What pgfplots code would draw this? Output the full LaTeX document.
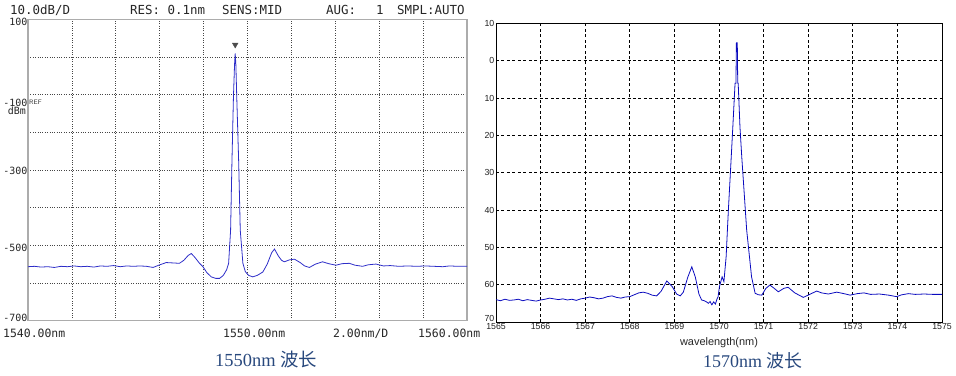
\documentclass[border=0pt]{standalone}
\usepackage{fontspec}
\usepackage{pgfplots}
\pgfplotsset{compat=1.18}
\newfontfamily\osafont{DejaVu Sans Mono}
\newfontfamily\arialf{Liberation Sans}
\newfontfamily\timesf{Liberation Serif}
\newfontfamily\cjk{Noto Sans CJK SC}
\definecolor{capblue}{RGB}{40,72,125}
\definecolor{traceA}{RGB}{45,45,200}
\definecolor{traceB}{RGB}{10,10,190}
\begin{document}
\begin{tikzpicture}
\useasboundingbox (0,0) rectangle (956bp,376bp);
% ---------------- left panel (OSA screen) ----------------
\begin{axis}[
  at={(28bp,55.5bp)}, anchor=south west, scale only axis,
  width=439bp, height=301bp,
  xmin=1540, xmax=1560, ymin=-70, ymax=10,
  xtick={1540,1542,...,1560}, ytick={-70,-60,...,10},
  xticklabels={}, yticklabels={},
  major tick length=0pt,
  grid=major,
  major grid style={gray!55!black, line width=0.7pt, dash pattern=on 0.8pt off 1.6pt},
  axis line style={gray!65, line width=1.3pt},
  clip=false,
]
\addplot[traceA, line width=0.8pt] coordinates {
(1540.0,-55.7)(1540.3,-55.6)(1540.6,-55.8)(1540.9,-55.7)(1541.2,-55.9)(1541.5,-55.6)
(1541.8,-55.7)(1542.1,-55.5)(1542.4,-55.7)(1542.7,-55.6)(1543.0,-55.8)(1543.3,-55.5)
(1543.6,-55.6)(1543.9,-55.4)(1544.2,-55.7)(1544.5,-55.5)(1544.8,-55.6)(1545.1,-55.5)
(1545.4,-55.6)(1545.7,-55.9)(1546.0,-55.2)(1546.3,-54.6)(1546.6,-54.7)(1546.9,-54.8)
(1547.1,-54.0)(1547.3,-52.7)(1547.44,-52.2)(1547.6,-53.2)(1547.8,-54.7)(1547.97,-55.7)
(1548.15,-57.3)(1548.35,-58.4)(1548.55,-58.8)(1548.73,-58.8)(1548.9,-58.0)(1549.05,-56.5)
(1549.14,-54.8)(1549.23,-46)(1549.29,-28.2)(1549.36,-10.5)(1549.41,-2)(1549.44,1.0)
(1549.47,-2)(1549.51,-10.5)(1549.60,-28.2)(1549.67,-46)(1549.79,-54.8)(1549.9,-57.0)
(1550.05,-58.0)(1550.24,-58.4)(1550.45,-58.0)(1550.70,-57.1)(1550.9,-55.0)(1551.1,-52.0)
(1551.23,-51.0)(1551.4,-52.8)(1551.55,-54.0)(1551.68,-54.4)(1551.9,-53.9)(1552.14,-53.7)
(1552.4,-54.6)(1552.6,-55.5)(1552.82,-55.9)(1553.1,-55.0)(1553.42,-54.4)(1553.7,-54.9)
(1554.03,-55.3)(1554.3,-54.9)(1554.64,-54.8)(1554.9,-55.3)(1555.24,-55.6)(1555.5,-55.2)
(1555.85,-55.0)(1556.2,-55.5)(1556.5,-55.4)(1556.9,-55.6)(1557.3,-55.5)(1557.7,-55.6)
(1558.1,-55.5)(1558.5,-55.6)(1558.9,-55.7)(1559.2,-55.5)(1559.6,-55.6)(1560.0,-55.6)
};
\addplot[only marks, mark=triangle*, mark size=3.3pt,
  mark options={rotate=180, fill=gray!60!black, draw=gray!60!black}] coordinates {(1549.44,3.3)};
\end{axis}
% left panel texts
\begin{scope}[every node/.style={inner sep=0pt, font=\osafont\fontsize{12.5}{12.5}\selectfont, text=black!85}]
\node[anchor=base west] at (10bp,361bp) {10.0dB/D};
\node[anchor=base west] at (130bp,361bp) {RES: 0.1nm};
\node[anchor=base west] at (222bp,361bp) {SENS:MID};
\node[anchor=base west] at (326bp,361bp) {AUG:};
\node[anchor=base west] at (376bp,361bp) {1};
\node[anchor=base west] at (397bp,361bp) {SMPL:AUTO};
\end{scope}
\begin{scope}[every node/.style={inner sep=0pt, font=\osafont\fontsize{10}{10}\selectfont, text=black!85}]
\node[anchor=east] at (27.5bp,354bp) {100};
\node[anchor=east] at (27.5bp,273.5bp) {-100};
\node[anchor=east] at (26bp,265bp) {dBm};
\node[anchor=east] at (27.5bp,205bp) {-300};
\node[anchor=east] at (27.5bp,128.5bp) {-500};
\node[anchor=east] at (27.5bp,58.5bp) {-700};
\end{scope}
\node[anchor=west, inner sep=0pt, font=\sffamily\fontsize{6.5}{6.5}\selectfont, text=black!80] at (29bp,273.5bp) {REF};
\begin{scope}[every node/.style={inner sep=0pt, font=\osafont\fontsize{11.5}{11.5}\selectfont, text=black!85}]
\node[anchor=base west] at (3bp,39bp) {1540.00nm};
\node[anchor=base west] at (223bp,39bp) {1550.00nm};
\node[anchor=base west] at (333bp,39bp) {2.00nm/D};
\node[anchor=base west] at (418bp,39bp) {1560.00nm};
\end{scope}
% ---------------- right panel ----------------
\begin{axis}[
  at={(496bp,54bp)}, anchor=south west, scale only axis,
  width=446bp, height=298.5bp,
  xmin=1565, xmax=1575, ymin=-70, ymax=10,
  xtick={1565,1566,...,1575}, ytick={-70,-60,...,10},
  xticklabels={1565,1566,1567,1568,1569,1570,1571,1572,1573,1574,1575},
  yticklabels={,60,50,40,30,20,10,0,10},
  xticklabel style={font=\arialf\fontsize{8.8}{8.8}\selectfont, text=gray!25!black, inner sep=1pt},
  yticklabel style={font=\arialf\fontsize{8.8}{8.8}\selectfont, text=gray!25!black, inner sep=1.5pt},
  major tick length=0pt,
  grid=major,
  major grid style={black, line width=0.7pt, dash pattern=on 3pt off 2.5pt},
  axis line style={black, line width=0.9pt},
]
\addplot[traceB, line width=0.8pt] coordinates {
(1565.0,-64.0)(1565.1,-64.3)(1565.2,-63.9)(1565.3,-64.2)(1565.4,-64.1)(1565.5,-63.9)
(1565.6,-64.3)(1565.7,-64.0)(1565.8,-64.2)(1565.9,-64.4)(1566.0,-64.1)(1566.1,-63.9)
(1566.2,-63.6)(1566.3,-63.8)(1566.4,-64.0)(1566.5,-63.8)(1566.6,-64.1)(1566.7,-63.9)
(1566.8,-64.2)(1566.9,-63.8)(1567.0,-63.6)(1567.1,-63.3)(1567.2,-63.5)(1567.3,-63.8)
(1567.4,-63.6)(1567.5,-63.2)(1567.6,-63.0)(1567.7,-63.4)(1567.8,-63.6)(1567.9,-63.3)
(1568.0,-63.2)(1568.1,-62.7)(1568.2,-62.2)(1568.3,-62.0)(1568.4,-62.3)(1568.5,-62.8)
(1568.6,-63.0)(1568.7,-61.8)(1568.83,-59.0)(1568.95,-60.5)(1569.05,-62.5)(1569.13,-63.0)
(1569.2,-62.0)(1569.3,-58.0)(1569.39,-55.2)(1569.47,-58.0)(1569.55,-62.5)(1569.61,-64.1)
(1569.67,-64.3)(1569.72,-64.6)(1569.76,-65.0)(1569.8,-64.5)(1569.84,-65.4)(1569.88,-64.6)
(1569.92,-65.2)(1569.95,-64.0)(1569.98,-63.2)(1570.01,-60.5)(1570.07,-57.9)(1570.11,-59.2)
(1570.16,-52.5)(1570.21,-40.0)(1570.26,-29)(1570.31,-17.7)(1570.36,-6.0)(1570.38,-6.0)
(1570.39,4.85)(1570.41,4.85)(1570.42,-6.0)(1570.43,-6.0)(1570.47,-17.7)(1570.51,-25.7)
(1570.62,-45.3)(1570.73,-57.9)(1570.81,-62.3)(1570.88,-62.7)(1570.96,-62.8)(1571.05,-61.0)
(1571.14,-60.1)(1571.24,-61.0)(1571.33,-61.9)(1571.45,-61.0)(1571.55,-60.7)(1571.7,-62.2)
(1571.89,-63.4)(1572.0,-62.8)(1572.19,-61.7)(1572.3,-62.2)(1572.45,-62.5)(1572.64,-62.0)
(1572.8,-62.4)(1572.94,-62.8)(1573.1,-62.4)(1573.25,-62.2)(1573.4,-62.6)(1573.6,-62.5)
(1573.8,-62.8)(1573.98,-63.2)(1574.1,-62.7)(1574.25,-62.4)(1574.4,-62.6)(1574.6,-62.5)
(1574.8,-62.6)(1575.0,-62.6)
};
\end{axis}
\node[anchor=south east, inner sep=0pt, font=\arialf\fontsize{8.8}{8.8}\selectfont, text=gray!25!black] at (494.5bp,54.5bp) {70};
\node[anchor=base, inner sep=0pt, font=\arialf\fontsize{11}{11}\selectfont, text=black!85] at (719bp,31bp) {wavelength(nm)};
% captions
\node[anchor=base west, inner sep=0pt, text=capblue] at (215bp,10bp) {\fontsize{18.5}{18.5}\selectfont\timesf 1550nm \cjk 波长};
\node[anchor=base west, inner sep=0pt, text=capblue] at (703bp,9bp) {\fontsize{18}{18}\selectfont\timesf 1570nm \cjk 波长};
\end{tikzpicture}
\end{document}
